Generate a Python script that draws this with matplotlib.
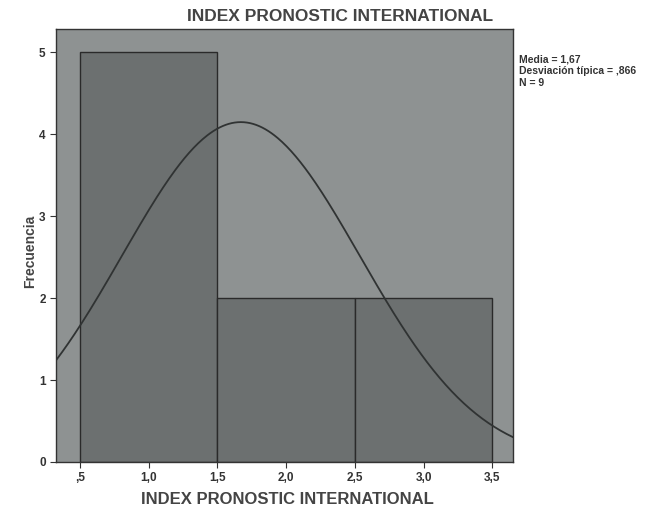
import numpy as np
import matplotlib
matplotlib.use("Agg")
import matplotlib.pyplot as plt

plt.rcParams['font.family'] = ['Liberation Sans', 'DejaVu Sans']

# Data
bin_edges = [0.5, 1.5, 2.5, 3.5]
counts = [5, 2, 2]
mean = 1.67
sd = 0.866
n = 9
xticks = [0.5, 1.0, 1.5, 2.0, 2.5, 3.0, 3.5]
xtick_labels = [',5', '1,0', '1,5', '2,0', '2,5', '3,0', '3,5']
yticks = [0, 1, 2, 3, 4, 5]

fig = plt.figure(figsize=(6.6, 5.08), dpi=100)
ax = fig.add_axes([0.085, 0.0906, 0.692, 0.852])
ax.set_facecolor('#8e9292')

widths = np.diff(bin_edges)
ax.bar(bin_edges[:-1], counts, width=widths, align='edge',
       color='#6c7070', edgecolor='#2a2a2a', linewidth=1.0)

# fitted normal curve
xlim = (0.325, 3.65)
xs = np.linspace(xlim[0], xlim[1], 300)
bw = widths[0]
ys = n * bw / (sd * np.sqrt(2 * np.pi)) * np.exp(-0.5 * ((xs - mean) / sd) ** 2)
ax.plot(xs, ys, color='#303333', linewidth=1.3)

ax.set_xlim(*xlim)
ax.set_ylim(0, 5.28)
ax.set_xticks(xticks)
ax.set_xticklabels(xtick_labels)
ax.set_yticks(yticks)
ax.tick_params(labelsize=8.5, colors='#333333', length=4)
for lab in ax.get_xticklabels() + ax.get_yticklabels():
    lab.set_fontweight('bold')
for s in ax.spines.values():
    s.set_color('#333333')
    s.set_linewidth(1.0)

fig.text(0.515, 0.967, 'INDEX PRONOSTIC INTERNATIONAL', fontsize=12.5,
         fontweight='bold', color='#444444', ha='center', va='center')
fig.text(0.435, 0.017, 'INDEX PRONOSTIC INTERNATIONAL', fontsize=12,
         fontweight='bold', color='#444444', ha='center', va='center')
fig.text(0.045, 0.505, 'Frecuencia', fontsize=10, fontweight='bold',
         color='#444444', ha='center', va='center', rotation=90)

fig.text(0.786, 0.893, 'Media = 1,67\nDesviación típica = ,866\nN = 9',
         fontsize=7.5, fontweight='bold', color='#333333', va='top', ha='left',
         linespacing=1.2)

fig.savefig('out.png', dpi=100, facecolor='white')
